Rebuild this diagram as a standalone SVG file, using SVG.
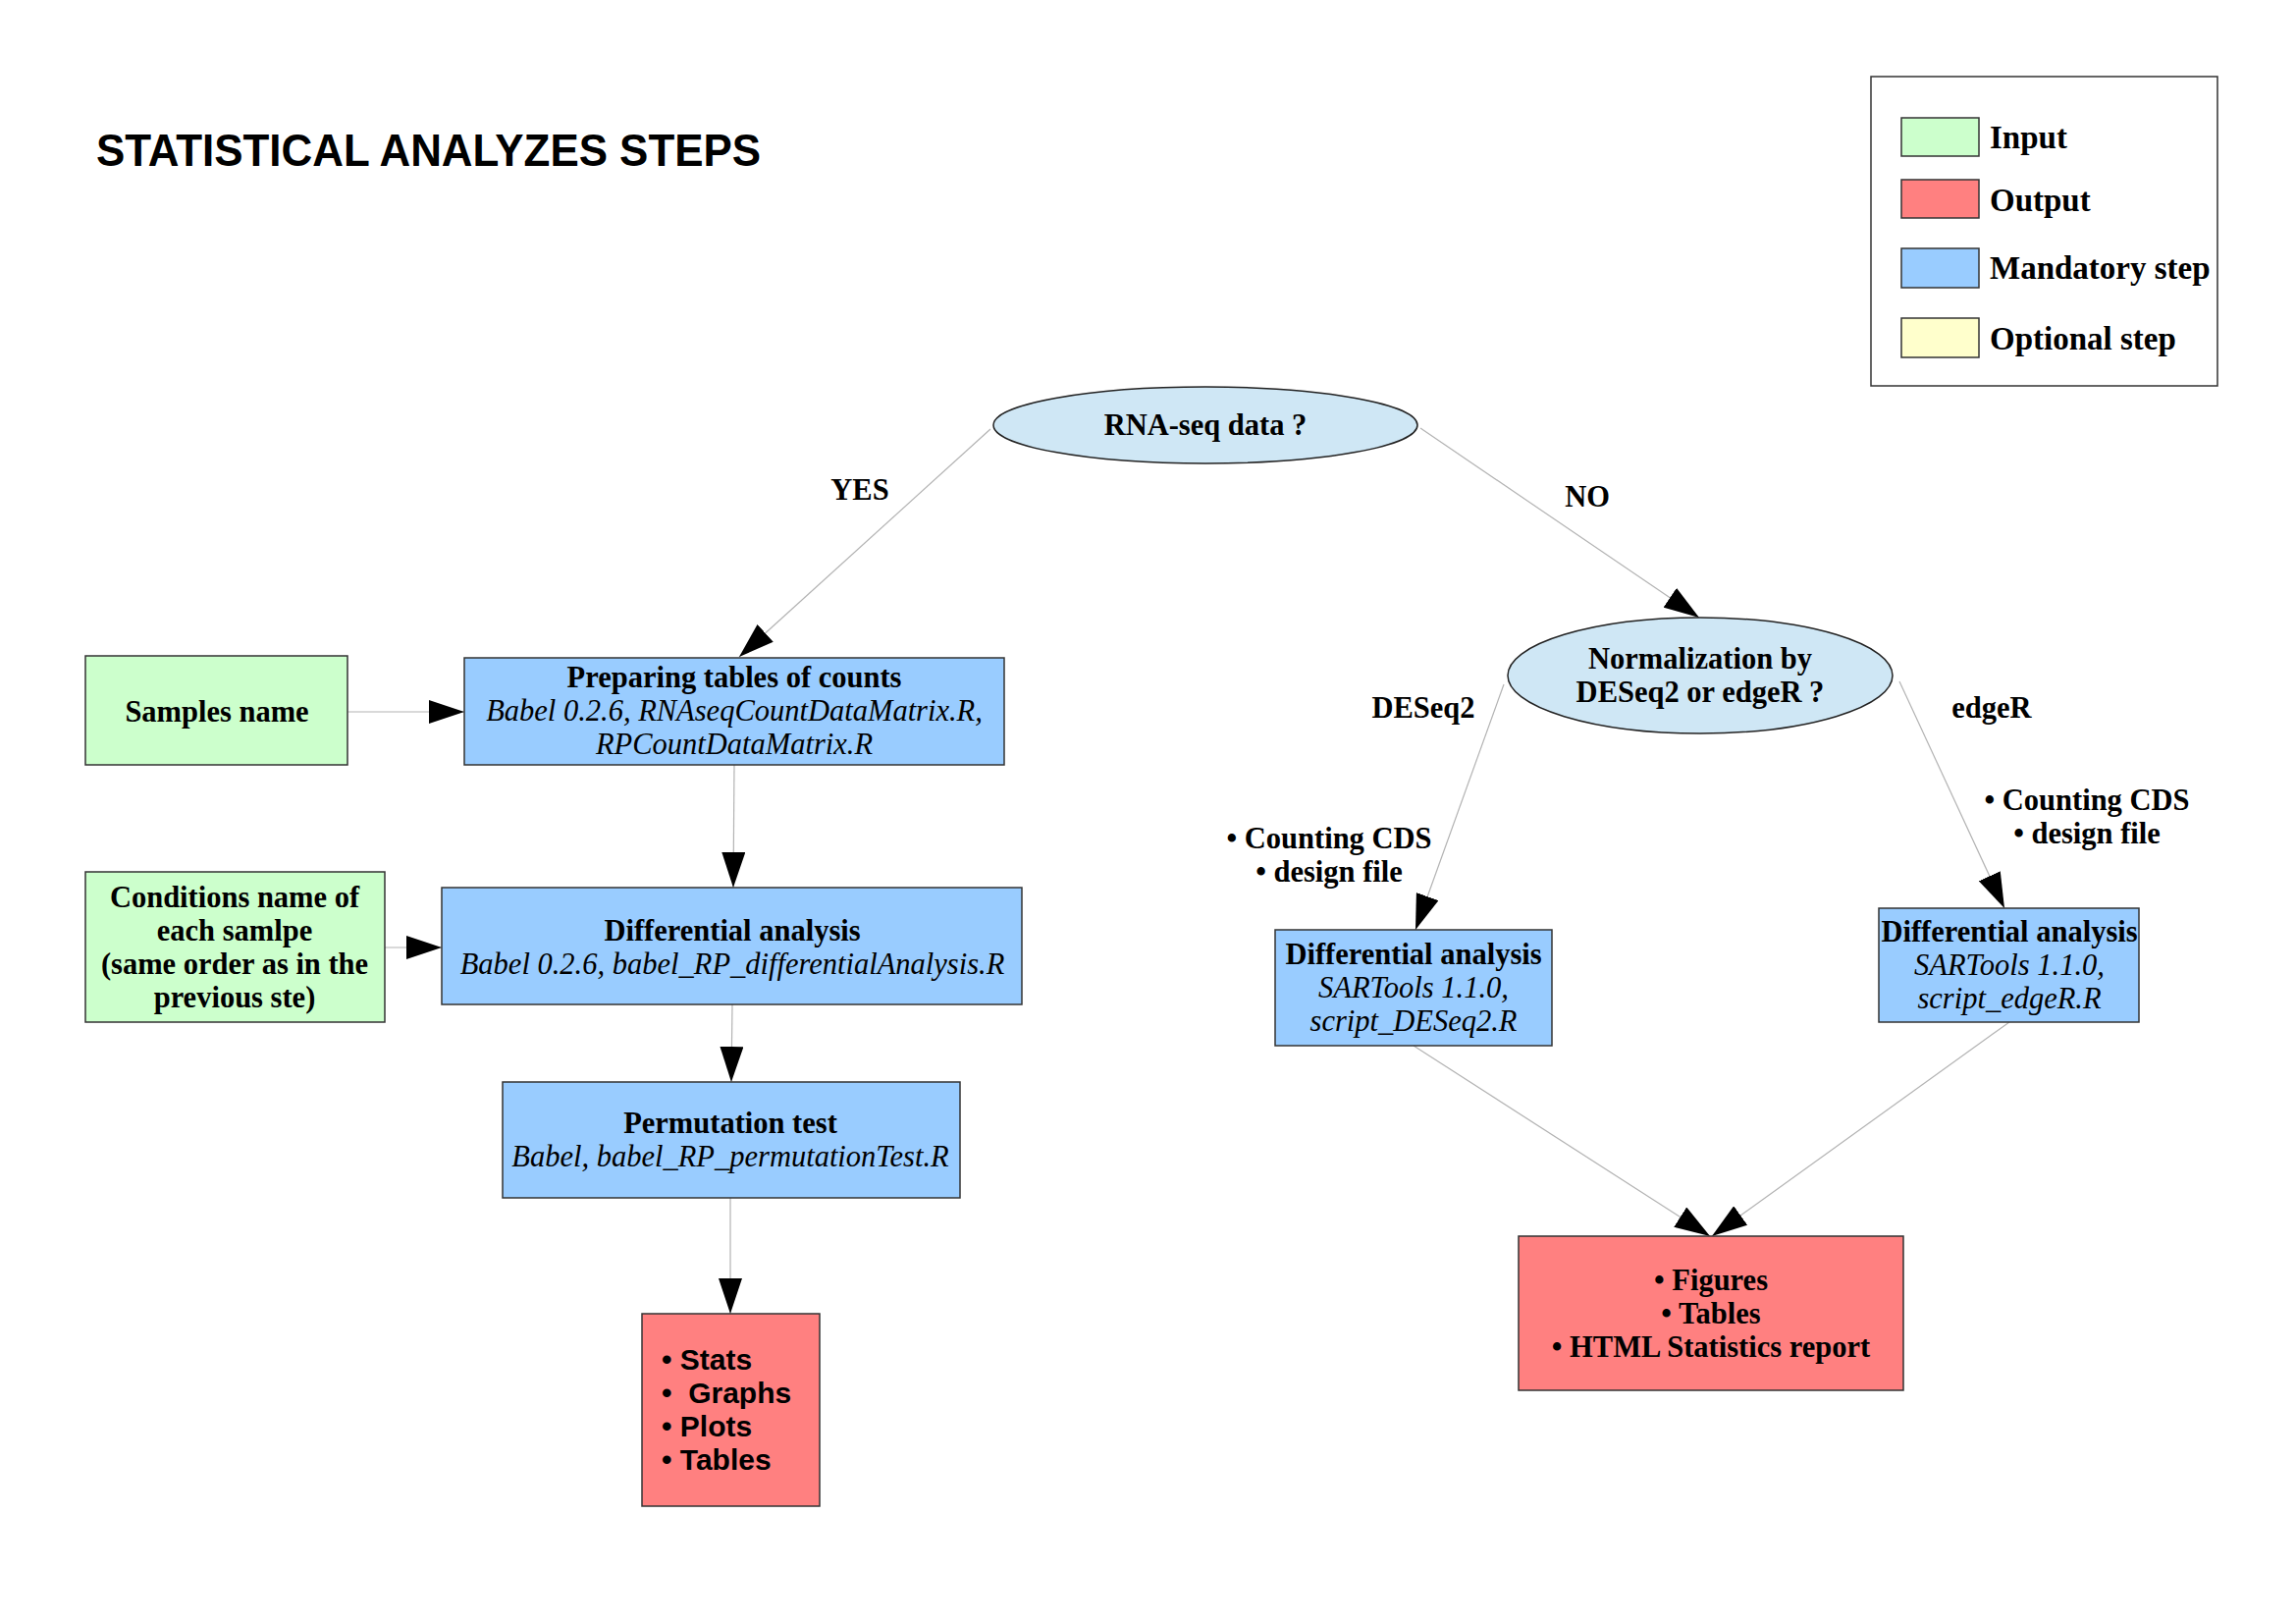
<svg xmlns="http://www.w3.org/2000/svg" width="2339" height="1653" viewBox="0 0 2339 1653">
<style>
.box{stroke:#333;stroke-width:1.5}
.in{fill:#ccffcc}.out{fill:#ff8080}.man{fill:#99ccff}.opt{fill:#ffffcc}
.ell{fill:#cfe7f5;stroke:#222;stroke-width:1.5}
.t{font-family:"Liberation Serif","Times New Roman",serif;font-size:30.5px;fill:#000;text-anchor:middle}
.b{font-weight:bold}
.i{font-style:italic}
.s{font-family:"Liberation Sans",Arial,sans-serif;font-weight:bold;font-size:30px;fill:#000;white-space:pre}
.lg{font-family:"Liberation Serif","Times New Roman",serif;font-weight:bold;font-size:33px;fill:#000}
.c{stroke:#b3b3b3;stroke-width:1.2;fill:none;marker-end:url(#ah)}
</style>
<defs>
<marker id="ah" markerUnits="userSpaceOnUse" markerWidth="36" markerHeight="24" refX="36" refY="12" orient="auto" viewBox="0 0 36 24">
<path d="M0,0 L36,12 L0,24 z" fill="#000"/>
</marker>
</defs>
<rect width="2339" height="1653" fill="#fff"/>
<text x="98" y="169" font-family="Liberation Sans, Arial, sans-serif" font-weight="bold" font-size="46" textLength="677" lengthAdjust="spacingAndGlyphs">STATISTICAL ANALYZES STEPS</text>

<g id="legend">
<rect x="1906" y="78" width="353" height="315" fill="#fff" stroke="#333" stroke-width="1.5"/>
<rect class="box in" x="1937" y="120" width="79" height="39"/>
<rect class="box out" x="1937" y="183" width="79" height="39"/>
<rect class="box man" x="1937" y="253" width="79" height="40"/>
<rect class="box opt" x="1937" y="324" width="79" height="40"/>
<text class="lg" x="2027" y="151">Input</text>
<text class="lg" x="2027" y="215">Output</text>
<text class="lg" x="2027" y="284">Mandatory step</text>
<text class="lg" x="2027" y="356">Optional step</text>
</g>

<g id="connectors">
<line class="c" x1="1009" y1="437" x2="753" y2="669"/>
<line class="c" x1="1447" y1="436" x2="1731" y2="629"/>
<line class="c" x1="354" y1="725" x2="473" y2="725"/>
<line class="c" x1="748" y1="779" x2="747" y2="904"/>
<line class="c" x1="392" y1="965" x2="450" y2="965"/>
<line class="c" x1="746" y1="1023" x2="745" y2="1102"/>
<line class="c" x1="744" y1="1220" x2="744" y2="1338"/>
<line class="c" x1="1532" y1="697" x2="1442" y2="947"/>
<line class="c" x1="1935" y1="694" x2="2042" y2="925"/>
<line class="c" x1="1440" y1="1065" x2="1742" y2="1259"/>
<line class="c" x1="2047" y1="1041" x2="1744" y2="1259"/>
<text class="t b" x="876" y="509">YES</text>
<text class="t b" x="1617" y="516">NO</text>
<text class="t b" x="1450" y="731">DESeq2</text>
<text class="t b" x="2029" y="731">edgeR</text>
<text class="t b" x="1354" y="864">• Counting CDS</text>
<text class="t b" x="1354" y="898">• design file</text>
<text class="t b" x="2126" y="825">• Counting CDS</text>
<text class="t b" x="2126" y="859">• design file</text>
</g>

<g id="rnaseq">
<ellipse class="ell" cx="1228" cy="433" rx="216" ry="39"/>
<text class="t b" x="1228" y="443">RNA-seq data ?</text>
</g>

<g id="samples">
<rect class="box in" x="87" y="668" width="267" height="111"/>
<text class="t b" x="221" y="735">Samples name</text>
</g>

<g id="preparing">
<rect class="box man" x="473" y="670" width="550" height="109"/>
<text class="t b" x="748" y="700">Preparing tables of counts</text>
<text class="t i" x="748" y="734">Babel 0.2.6, RNAseqCountDataMatrix.R,</text>
<text class="t i" x="748" y="768">RPCountDataMatrix.R</text>
</g>

<g id="conditions">
<rect class="box in" x="87" y="888" width="305" height="153"/>
<text class="t b" x="239" y="924">Conditions name of</text>
<text class="t b" x="239" y="958">each samlpe</text>
<text class="t b" x="239" y="992">(same order as in the</text>
<text class="t b" x="239" y="1026">previous ste)</text>
</g>

<g id="diff-babel">
<rect class="box man" x="450" y="904" width="591" height="119"/>
<text class="t b" x="746" y="958">Differential analysis</text>
<text class="t i" x="746" y="992">Babel 0.2.6, babel_RP_differentialAnalysis.R</text>
</g>

<g id="permutation">
<rect class="box man" x="512" y="1102" width="466" height="118"/>
<text class="t b" x="744" y="1154">Permutation test</text>
<text class="t i" x="744" y="1188">Babel, babel_RP_permutationTest.R</text>
</g>

<g id="output-left">
<rect class="box out" x="654" y="1338" width="181" height="196"/>
<text class="s" x="674" y="1395">• Stats</text>
<text class="s" x="674" y="1429">•  Graphs</text>
<text class="s" x="674" y="1463">• Plots</text>
<text class="s" x="674" y="1497">• Tables</text>
</g>

<g id="normalization">
<ellipse class="ell" cx="1732" cy="688" rx="196" ry="59"/>
<text class="t b" x="1732" y="681">Normalization by</text>
<text class="t b" x="1732" y="715">DESeq2 or edgeR ?</text>
</g>

<g id="diff-deseq2">
<rect class="box man" x="1299" y="947" width="282" height="118"/>
<text class="t b" x="1440" y="982">Differential analysis</text>
<text class="t i" x="1440" y="1016">SARTools 1.1.0,</text>
<text class="t i" x="1440" y="1050">script_DESeq2.R</text>
</g>

<g id="diff-edger">
<rect class="box man" x="1914" y="925" width="265" height="116"/>
<text class="t b" x="2047" y="959">Differential analysis</text>
<text class="t i" x="2047" y="993">SARTools 1.1.0,</text>
<text class="t i" x="2047" y="1027">script_edgeR.R</text>
</g>

<g id="output-right">
<rect class="box out" x="1547" y="1259" width="392" height="157"/>
<text class="t b" x="1743" y="1314">• Figures</text>
<text class="t b" x="1743" y="1348">• Tables</text>
<text class="t b" x="1743" y="1382">• HTML Statistics report</text>
</g>
</svg>
